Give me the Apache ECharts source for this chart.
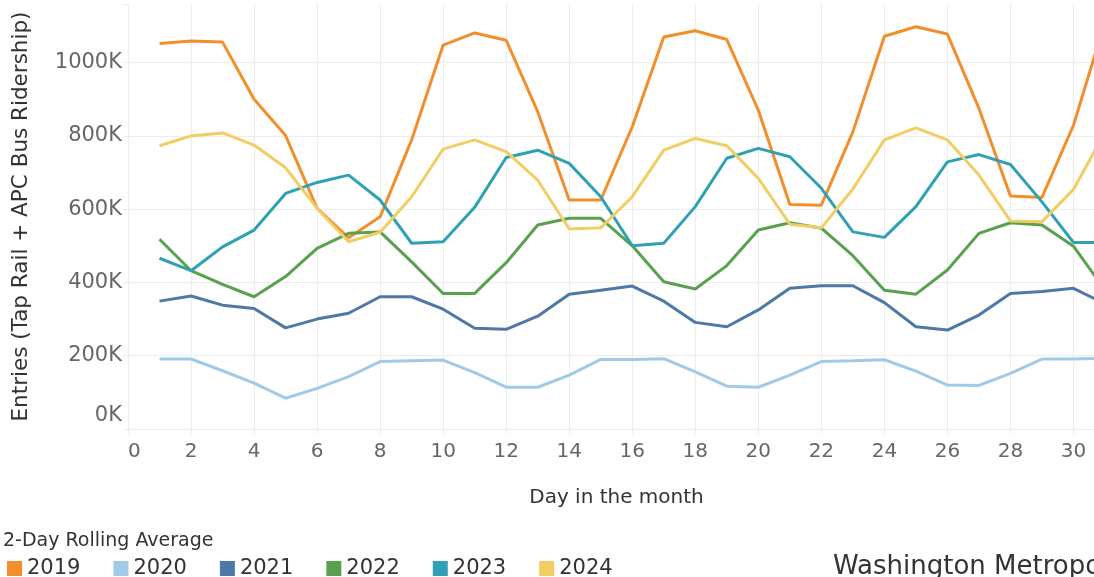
<!DOCTYPE html>
<html>
<head>
<meta charset="utf-8">
<script src="https://cdn.jsdelivr.net/npm/echarts@6/dist/echarts.min.js"></script>
<style>
html,body{margin:0;padding:0;background:#fff;}
#c{width:1094px;height:577px;}
</style>
</head>
<body>
<div id="c"></div>
<script>
const days = [1,2,3,4,5,6,7,8,9,10,11,12,13,14,15,16,17,18,19,20,21,22,23,24,25,26,27,28,29,30,31];
const years = ['2019','2020','2021','2022','2023','2024'];
const colors = ['#F28E2B','#A0CBE8','#4E79A7','#59A14F','#30A1B5','#F1CE63'];
const v2019 = [1052,1059,1056,900,801,602,522,579,789,1048,1081,1061,866,625,625,825,1070,1087,1063,870,613,611,811,1072,1098,1078,875,636,632,829,1112];
const v2020 = [191,191,159,125,84,111,143,184,186,188,154,114,114,147,190,190,192,156,117,114,147,184,186,189,158,120,119,152,191,191,193];
const v2021 = [349,363,338,329,276,300,316,361,361,327,275,272,308,368,379,390,349,291,279,325,384,391,391,345,279,270,311,370,375,384,342];
const v2022 = [518,432,395,361,416,493,534,538,456,370,370,454,557,575,575,500,402,382,446,543,563,548,473,379,368,434,534,563,557,499,379];
const v2023 = [466,432,497,543,643,673,693,625,507,511,605,741,761,725,634,500,507,607,739,766,743,657,538,523,607,729,749,722,620,509,509];
const v2024 = [773,800,808,775,713,602,511,537,634,764,789,757,679,546,549,634,761,793,773,684,559,549,655,789,822,789,693,568,566,654,810];
const seriesValues = [v2019, v2020, v2021, v2022, v2023, v2024];
const yTicks = [0,200,400,600,800,1000];
const xTicks = [0,2,4,6,8,10,12,14,16,18,20,22,24,26,28,30];

const FONT = '"DejaVu Sans", sans-serif';
const chart = echarts.init(document.getElementById('c'), null, {renderer:'canvas'});
const gridColor = '#ededed';

const option = {
  backgroundColor: '#ffffff',
  animation: false,
  textStyle: {fontFamily: FONT},
  title: {
    text: '2-Day Rolling Average',
    left: -2, top: 527,
    textStyle: {fontFamily: FONT, fontSize: 19, fontWeight: 'normal', color: '#333333'}
  },
  legend: {
    left: 2, top: 553,
    icon: 'rect', itemWidth: 15, itemHeight: 15, itemGap: 33,
    data: years,
    textStyle: {fontFamily: FONT, fontSize: 21, color: '#333333'}
  },
  graphic: [{
    type: 'text', left: 833, top: 554,
    style: {text: 'Washington Metropolitan Area Transit Authority', font: '26px "DejaVu Sans", sans-serif', fill: '#333333'}
  }],
  grid: {left: 128, width: 977, top: 4, bottom: 148, containLabel: false, outerBoundsMode: 'none'},
  xAxis: {
    type: 'value', min: 0, max: 31, interval: 2,
    name: 'Day in the month', nameLocation: 'middle', nameGap: 59,
    nameTextStyle: {fontFamily: FONT, fontSize: 20, color: '#333333'},
    axisLine: {show: false},
    axisTick: {show: true, length: 5, lineStyle: {color: gridColor}},
    splitLine: {show: true, showMaxLine: false, lineStyle: {color: gridColor, width: 1}},
    axisLabel: {
      fontFamily: FONT, fontSize: 20, color: '#666666', margin: 13,
      alignMinLabel: 'left',
      formatter: v => xTicks.indexOf(v) >= 0 ? String(v) : ''
    }
  },
  yAxis: {
    type: 'value', min: 0, max: 1160, interval: 200,
    name: 'Entries (Tap Rail + APC Bus Ridership)', nameLocation: 'middle', nameGap: 96, nameRotate: 90,
    nameTextStyle: {fontFamily: FONT, fontSize: 21.5, color: '#333333'},
    axisLine: {show: false},
    axisTick: {show: true, length: 5, lineStyle: {color: gridColor}},
    splitLine: {show: true, showMaxLine: false, lineStyle: {color: gridColor, width: 1}},
    axisLabel: {
      fontFamily: FONT, fontSize: 21, color: '#666666', margin: 6,
      formatter: v => yTicks.indexOf(v) < 0 ? '' : (v === 0 ? '{z|0K}' : v + 'K'),
      rich: {z: {fontFamily: FONT, fontSize: 21, color: '#666666', padding: [0,0,26,0]}}
    }
  },
  series: years.map((y, i) => ({
    name: y, type: 'line',
    data: days.map((d, j) => [d, seriesValues[i][j]]),
    showSymbol: false, symbol: 'none',
    lineStyle: {width: 3, color: colors[i]},
    itemStyle: {color: colors[i]},
    clip: true
  }))
};
chart.setOption(option);
</script>
</body>
</html>
